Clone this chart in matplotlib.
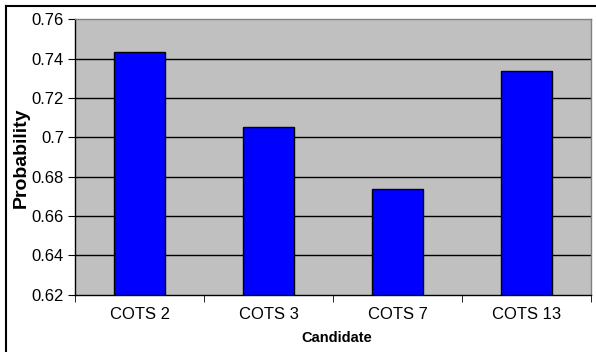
import matplotlib
matplotlib.use("Agg")
import matplotlib.pyplot as plt
from matplotlib.lines import Line2D

categories = ["COTS 2", "COTS 3", "COTS 7", "COTS 13"]
probability = [0.7434, 0.7054, 0.6738, 0.7337]
yticks = [0.62, 0.64, 0.66, 0.68, 0.70, 0.72, 0.74, 0.76]
ytick_labels = ["0.62", "0.64", "0.66", "0.68", "0.7", "0.72", "0.74", "0.76"]

plt.rcParams['font.family'] = ['Liberation Sans', 'DejaVu Sans']

W, H = 596, 352
fig = plt.figure(figsize=(W / 100, H / 100), dpi=100)
fig.patch.set_facecolor("white")

left, right, top, bottom = 75, 591, 19.3, 294.7
ax = fig.add_axes([left / W, 1 - bottom / H, (right - left) / W, (bottom - top) / H])
ax.set_facecolor("#c0c0c0")

x = list(range(len(categories)))
ax.bar(x, [p - 0.62 for p in probability], bottom=0.62, width=0.40,
       color="#0000ff", edgecolor="black", linewidth=1.0, zorder=3)

ax.set_xlim(-0.5, len(categories) - 0.5)
ax.set_ylim(0.62, 0.76)
ax.set_yticks(yticks)
ax.set_yticklabels(ytick_labels, fontsize=12)
ax.set_xticks(x)
ax.set_xticklabels(categories, fontsize=12)
ax.tick_params(axis="x", length=0, pad=9)
ax.set_xticks([i + 0.5 for i in range(-1, len(categories))], minor=True)
ax.tick_params(axis="x", which="minor", length=5, direction="out", color="black")
ax.tick_params(axis="y", length=5, direction="out", color="black", pad=3)

for yv in yticks[1:-1]:
    ax.axhline(yv, color="black", linewidth=1.0, zorder=1)

for s in ["top", "right"]:
    ax.spines[s].set_color("#808080")
    ax.spines[s].set_linewidth(1.0)
for s in ["left", "bottom"]:
    ax.spines[s].set_color("black")
    ax.spines[s].set_linewidth(1.0)

fig.text(337 / W, 1 - 338 / H, "Candidate", fontsize=10.5, fontweight="bold",
         ha="center", va="center")
fig.text(21 / W, 1 - 157.5 / H, "Probability", fontsize=14, fontweight="bold",
         ha="center", va="center", rotation=90)

# outer border (top and left visible)
fig.add_artist(Line2D([5.5 / W, 1.0], [1 - 5.5 / H, 1 - 5.5 / H], color="black",
                      linewidth=1.5, transform=fig.transFigure))
fig.add_artist(Line2D([5.5 / W, 5.5 / W], [0.0, 1 - 5.5 / H], color="black",
                      linewidth=1.5, transform=fig.transFigure))

fig.savefig("out.png", dpi=100)
